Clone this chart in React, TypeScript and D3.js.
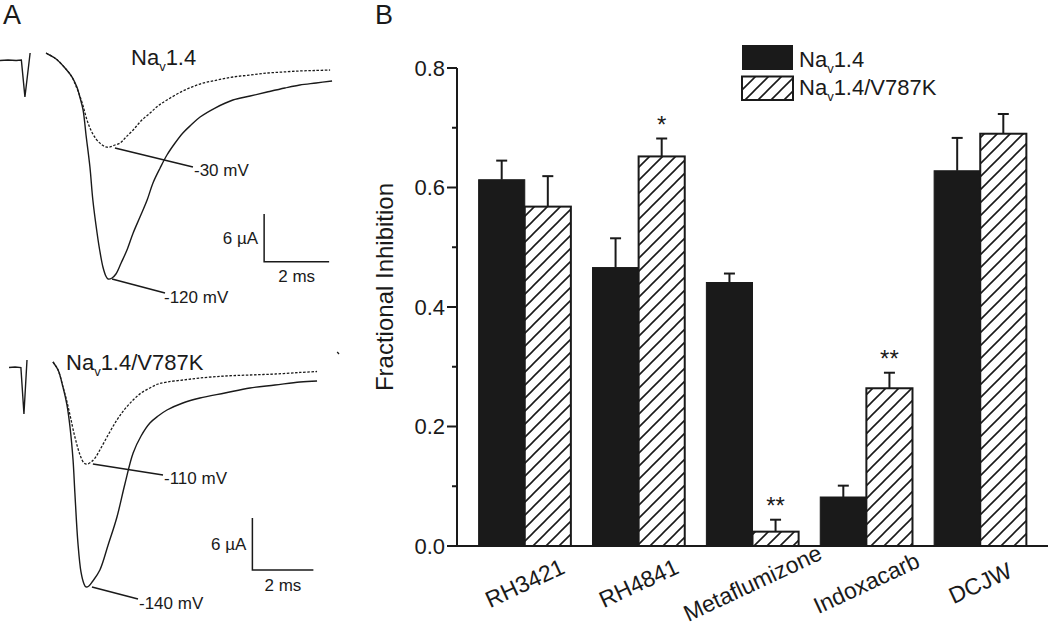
import React from "react";
import * as d3 from "d3";

// ---------- Panel B data ----------
const categories = ["RH3421", "RH4841", "Metaflumizone", "Indoxacarb", "DCJW"];
const seriesNames = ["Nav1.4", "Nav1.4/V787K"];
const wtValues = [0.613, 0.466, 0.441, 0.082, 0.628];
const wtErrors = [0.032, 0.049, 0.015, 0.019, 0.055];
const mutValues = [0.568, 0.652, 0.024, 0.264, 0.69];
const mutErrors = [0.051, 0.03, 0.02, 0.026, 0.033];
const mutSignif = ["", "*", "**", "**", ""];
const yTicks = [0, 0.2, 0.4, 0.6, 0.8];
const yMinorTicks = [0.1, 0.3, 0.5, 0.7];

// ---------- Panel A data (time in ms, current in µA) ----------
const stimTop: [number, number][] = [
  [-0.68, -0.06], [-0.43, 0], [-0.18, -0.06], [-0.02, 0], [0.09, -4.65], [0.25, 0.88],
];
const solidTop: [number, number][] = [
  [0.74, 0.88], [1.05, 0.13], [1.35, -1.13], [1.54, -2.14], [1.69, -3.4], [1.78, -4.65],
  [1.88, -6.29], [1.97, -9.43], [2.09, -13.46], [2.18, -17.61], [2.31, -21.76], [2.4, -24.15],
  [2.49, -26.04], [2.58, -27.17], [2.65, -27.55], [2.77, -27.42], [2.89, -26.92], [3.05, -25.53],
  [3.23, -23.9], [3.42, -21.76], [3.63, -19.75], [3.85, -17.61], [4.03, -15.47], [4.25, -13.58],
  [4.46, -11.95], [4.71, -10.44], [4.95, -9.18], [5.2, -8.18], [5.48, -7.17], [5.94, -6.04],
  [6.49, -5.03], [7.02, -4.53], [7.54, -4.03], [8.09, -3.52], [8.55, -3.14], [9.05, -2.89],
  [9.54, -2.64],
];
const dashedTop: [number, number][] = [
  [0.74, 0.88], [1.05, 0.13], [1.35, -1.13], [1.54, -2.14], [1.66, -3.27], [1.78, -4.53],
  [1.88, -5.79], [2.0, -7.55], [2.12, -8.81], [2.28, -9.94], [2.43, -10.57], [2.58, -10.94],
  [2.71, -10.94], [2.86, -10.69], [3.02, -10.44], [3.2, -9.69], [3.42, -8.81], [3.66, -7.67],
  [3.94, -6.67], [4.18, -5.79], [4.46, -5.03], [4.95, -3.9], [5.48, -3.02], [6.0, -2.52],
  [6.49, -2.14], [7.02, -1.89], [7.54, -1.64], [8.03, -1.51], [8.55, -1.38], [9.02, -1.32],
  [9.48, -1.26],
];
const stimBottom: [number, number][] = [
  [0, -0.06], [0.2, 0], [0.39, -0.06], [0.49, -5.42], [0.59, 0.81],
];
const solidBottom: [number, number][] = [
  [1.44, 0.58], [1.61, -0.35], [1.77, -2.31], [1.9, -4.38], [2.0, -6.92], [2.1, -10.73],
  [2.16, -14.53], [2.26, -20.3], [2.36, -23.64], [2.46, -25.03], [2.52, -25.37], [2.62, -25.26],
  [2.75, -24.68], [2.98, -23.41], [3.25, -20.53], [3.54, -17.3], [3.8, -13.49], [4.07, -9.92],
  [4.33, -7.96], [4.62, -6.46], [4.89, -5.65], [5.18, -4.96], [5.7, -4.15], [6.26, -3.58],
  [7.08, -3.0], [7.9, -2.42], [8.72, -2.08], [9.54, -1.73], [10.1, -1.61],
];
const dashedBottom: [number, number][] = [
  [1.44, 0.58], [1.61, -0.35], [1.77, -2.31], [1.87, -3.58], [2.0, -5.54], [2.16, -8.07],
  [2.33, -10.15], [2.46, -11.07], [2.56, -11.19], [2.69, -10.96], [2.82, -10.5], [2.98, -9.57],
  [3.25, -7.84], [3.54, -6.11], [3.8, -4.84], [4.07, -3.81], [4.33, -3.0], [4.62, -2.42],
  [4.89, -1.96], [5.18, -1.73], [5.7, -1.5], [6.26, -1.27], [7.08, -1.04], [7.9, -0.92],
  [8.72, -0.81], [9.54, -0.63], [10.1, -0.52],
];
// annotations: [fromT, fromI, toT, toI]
const leadersTop = [
  { label: "-30 mV", seg: [2.86, -11.07, 5.26, -13.46] },
  { label: "-120 mV", seg: [2.77, -27.55, 4.4, -29.3] },
];
const leadersBottom = [
  { label: "-110 mV", seg: [2.75, -11.19, 5.05, -12.46] },
  { label: "-140 mV", seg: [2.72, -25.37, 4.23, -26.75] },
];
const scaleBarTop = { t: 7.45, i: -19.37, dt: 2, di: 6 };
const scaleBarBottom = { t: 7.98, i: -17.42, dt: 2, di: 6 };
// small stray speck seen in the lower trace panel
const speckBottom: [number, number][] = [[10.76, 1.73], [10.82, 1.5]];

const FONT = "'Liberation Sans', Arial, Helvetica, sans-serif";
const INK = "#1a1a1a";

function Nav({ x, y, size, rest, anchor }: { x: number; y: number; size: number; rest: string; anchor?: string }) {
  const sub = Math.round(size * 0.6);
  const dy = Math.round(size * 0.28);
  return (
    <text x={x} y={y} fontSize={size} fontFamily={FONT} fill={INK} textAnchor={anchor || "start"}>
      Na
      <tspan dy={dy} fontSize={sub}>v</tspan>
      <tspan dy={-dy}>{rest}</tspan>
    </text>
  );
}

function TracePanel({
  xs, ys, stim, solid, dashed, leaders, bar, title, titleX, titleY, labelPos, barLabels, speck,
}: any) {
  const lineC = d3.line<[number, number]>().x((d) => xs(d[0])).y((d) => ys(d[1])).curve(d3.curveCatmullRom.alpha(0.5));
  const lineL = d3.line<[number, number]>().x((d) => xs(d[0])).y((d) => ys(d[1]));
  return (
    <g>
      <path d={lineL(stim) || ""} fill="none" stroke={INK} strokeWidth={1.4} />
      <path d={lineC(dashed) || ""} fill="none" stroke={INK} strokeWidth={1.3} strokeDasharray="2.5,1.6" />
      <path d={lineC(solid) || ""} fill="none" stroke={INK} strokeWidth={1.4} />
      {speck && <path d={lineL(speck) || ""} fill="none" stroke={INK} strokeWidth={1.3} />}
      {leaders.map((l: any, i: number) => (
        <g key={i}>
          <line x1={xs(l.seg[0])} y1={ys(l.seg[1])} x2={xs(l.seg[2])} y2={ys(l.seg[3])} stroke={INK} strokeWidth={1.5} />
          <text x={labelPos[i][0]} y={labelPos[i][1]} fontSize={17} fontFamily={FONT} fill={INK}>{l.label}</text>
        </g>
      ))}
      <path
        d={`M${xs(bar.t)},${ys(bar.i)}L${xs(bar.t)},${ys(bar.i - bar.di)}L${xs(bar.t + bar.dt)},${ys(bar.i - bar.di)}`}
        fill="none" stroke={INK} strokeWidth={1.5}
      />
      <text x={xs(bar.t) - 6} y={ys(bar.i - bar.di / 2) + 6} fontSize={17} fontFamily={FONT} fill={INK} textAnchor="end">6 µA</text>
      <text x={xs(bar.t + bar.dt / 2)} y={ys(bar.i - bar.di) + barLabels} fontSize={17} fontFamily={FONT} fill={INK} textAnchor="middle">2 ms</text>
      <Nav x={titleX} y={titleY} size={22} rest={title} />
    </g>
  );
}

export default function App() {
  // Panel A scales
  const xA1 = d3.scaleLinear().domain([0, 10]).range([22, 347]);
  const yA1 = d3.scaleLinear().domain([0, -30]).range([60, 298.5]);
  const xA2 = d3.scaleLinear().domain([0, 10]).range([9, 314]);
  const yA2 = d3.scaleLinear().domain([0, -30]).range([367, 627.1]);

  // Panel B scales
  const yB = d3.scaleLinear().domain([0, 0.8]).range([546, 68]);
  const xB = d3.scaleBand<string>().domain(categories).range([457, 1048]).paddingInner(0.19).paddingOuter(0.19);
  const xS = d3.scaleBand<string>().domain(seriesNames).range([0, xB.bandwidth()]);
  const bw = xS.bandwidth();
  const axisX = 457;
  const cap = 5.5;

  return (
    <svg width={1050} height={625} style={{ position: "absolute", left: 0, top: 0, background: "#fff" }}>
      <defs>
        <pattern id="hatch" patternUnits="userSpaceOnUse" width={13} height={13}>
          <rect width={13} height={13} fill="#fff" />
          <path d="M-2,15 L15,-2 M-6.5,6.5 L6.5,-6.5 M6.5,19.5 L19.5,6.5" stroke={INK} strokeWidth={1.6} />
        </pattern>
      </defs>
      <rect width={1050} height={625} fill="#fff" />

      {/* Panel letters */}
      <text x={3} y={24} fontSize={27} fontFamily={FONT} fill={INK}>A</text>
      <text x={375} y={24} fontSize={27} fontFamily={FONT} fill={INK}>B</text>

      {/* Panel A */}
      <TracePanel
        xs={xA1} ys={yA1} stim={stimTop} solid={solidTop} dashed={dashedTop}
        leaders={leadersTop} bar={scaleBarTop} title="1.4" titleX={131} titleY={65}
        labelPos={[[194, 176], [164, 303]]} barLabels={20}
      />
      <TracePanel
        xs={xA2} ys={yA2} stim={stimBottom} solid={solidBottom} dashed={dashedBottom}
        leaders={leadersBottom} bar={scaleBarBottom} title="1.4/V787K" titleX={66} titleY={370}
        labelPos={[[164, 484], [139, 609]]} barLabels={21} speck={speckBottom}
      />

      {/* Panel B axes */}
      <line x1={axisX} y1={yB(0)} x2={axisX} y2={yB(0.8)} stroke={INK} strokeWidth={2} />
      <line x1={axisX - 10} y1={yB(0)} x2={1048} y2={yB(0)} stroke={INK} strokeWidth={2} />
      {yTicks.map((t) => (
        <g key={t}>
          <line x1={axisX - 10} x2={axisX} y1={yB(t)} y2={yB(t)} stroke={INK} strokeWidth={2} />
          <text x={axisX - 12} y={yB(t)} dy="0.36em" textAnchor="end" fontSize={22} fontFamily={FONT} fill={INK}>
            {t.toFixed(1)}
          </text>
        </g>
      ))}
      {yMinorTicks.map((t) => (
        <line key={t} x1={axisX - 5} x2={axisX} y1={yB(t)} y2={yB(t)} stroke={INK} strokeWidth={2} />
      ))}
      <text
        transform={`translate(393,${(yB(0) + yB(0.8)) / 2 - 20}) rotate(-90)`}
        textAnchor="middle" fontSize={24} fontFamily={FONT} fill={INK}
      >
        Fractional Inhibition
      </text>

      {/* Bars */}
      {categories.map((c, i) => {
        const x0 = xB(c)!;
        const xw = x0 + xS(seriesNames[0])!;
        const xm = x0 + xS(seriesNames[1])!;
        return (
          <g key={c}>
            <line x1={xw + bw / 2} x2={xw + bw / 2} y1={yB(wtValues[i])} y2={yB(wtValues[i] + wtErrors[i])} stroke={INK} strokeWidth={2} />
            <line x1={xw + bw / 2 - cap} x2={xw + bw / 2 + cap} y1={yB(wtValues[i] + wtErrors[i])} y2={yB(wtValues[i] + wtErrors[i])} stroke={INK} strokeWidth={2} />
            <line x1={xm + bw / 2} x2={xm + bw / 2} y1={yB(mutValues[i])} y2={yB(mutValues[i] + mutErrors[i])} stroke={INK} strokeWidth={2} />
            <line x1={xm + bw / 2 - cap} x2={xm + bw / 2 + cap} y1={yB(mutValues[i] + mutErrors[i])} y2={yB(mutValues[i] + mutErrors[i])} stroke={INK} strokeWidth={2} />
            <rect x={xw} y={yB(wtValues[i])} width={bw} height={yB(0) - yB(wtValues[i])} fill={INK} stroke={INK} strokeWidth={1} />
            <rect x={xm} y={yB(mutValues[i])} width={bw} height={yB(0) - yB(mutValues[i])} fill="url(#hatch)" stroke={INK} strokeWidth={2} />
            {mutSignif[i] && (
              <text x={xm + bw / 2} y={yB(mutValues[i] + mutErrors[i]) - 6} textAnchor="middle" fontSize={24} fontFamily={FONT} fill={INK}>
                {mutSignif[i]}
              </text>
            )}
            <text
              transform={`translate(${x0 + xB.bandwidth() / 2},${583}) rotate(-25)`}
              textAnchor="middle" dy="0.35em" fontSize={23} fontFamily={FONT} fill={INK}
            >
              {c}
            </text>
          </g>
        );
      })}

      {/* Legend */}
      <rect x={742} y={45} width={51} height={25} fill={INK} />
      <rect x={742} y={76.5} width={51} height={23.5} fill="url(#hatch)" stroke={INK} strokeWidth={2} />
      <Nav x={799} y={67} size={22} rest="1.4" />
      <Nav x={799} y={95} size={22} rest="1.4/V787K" />
    </svg>
  );
}
